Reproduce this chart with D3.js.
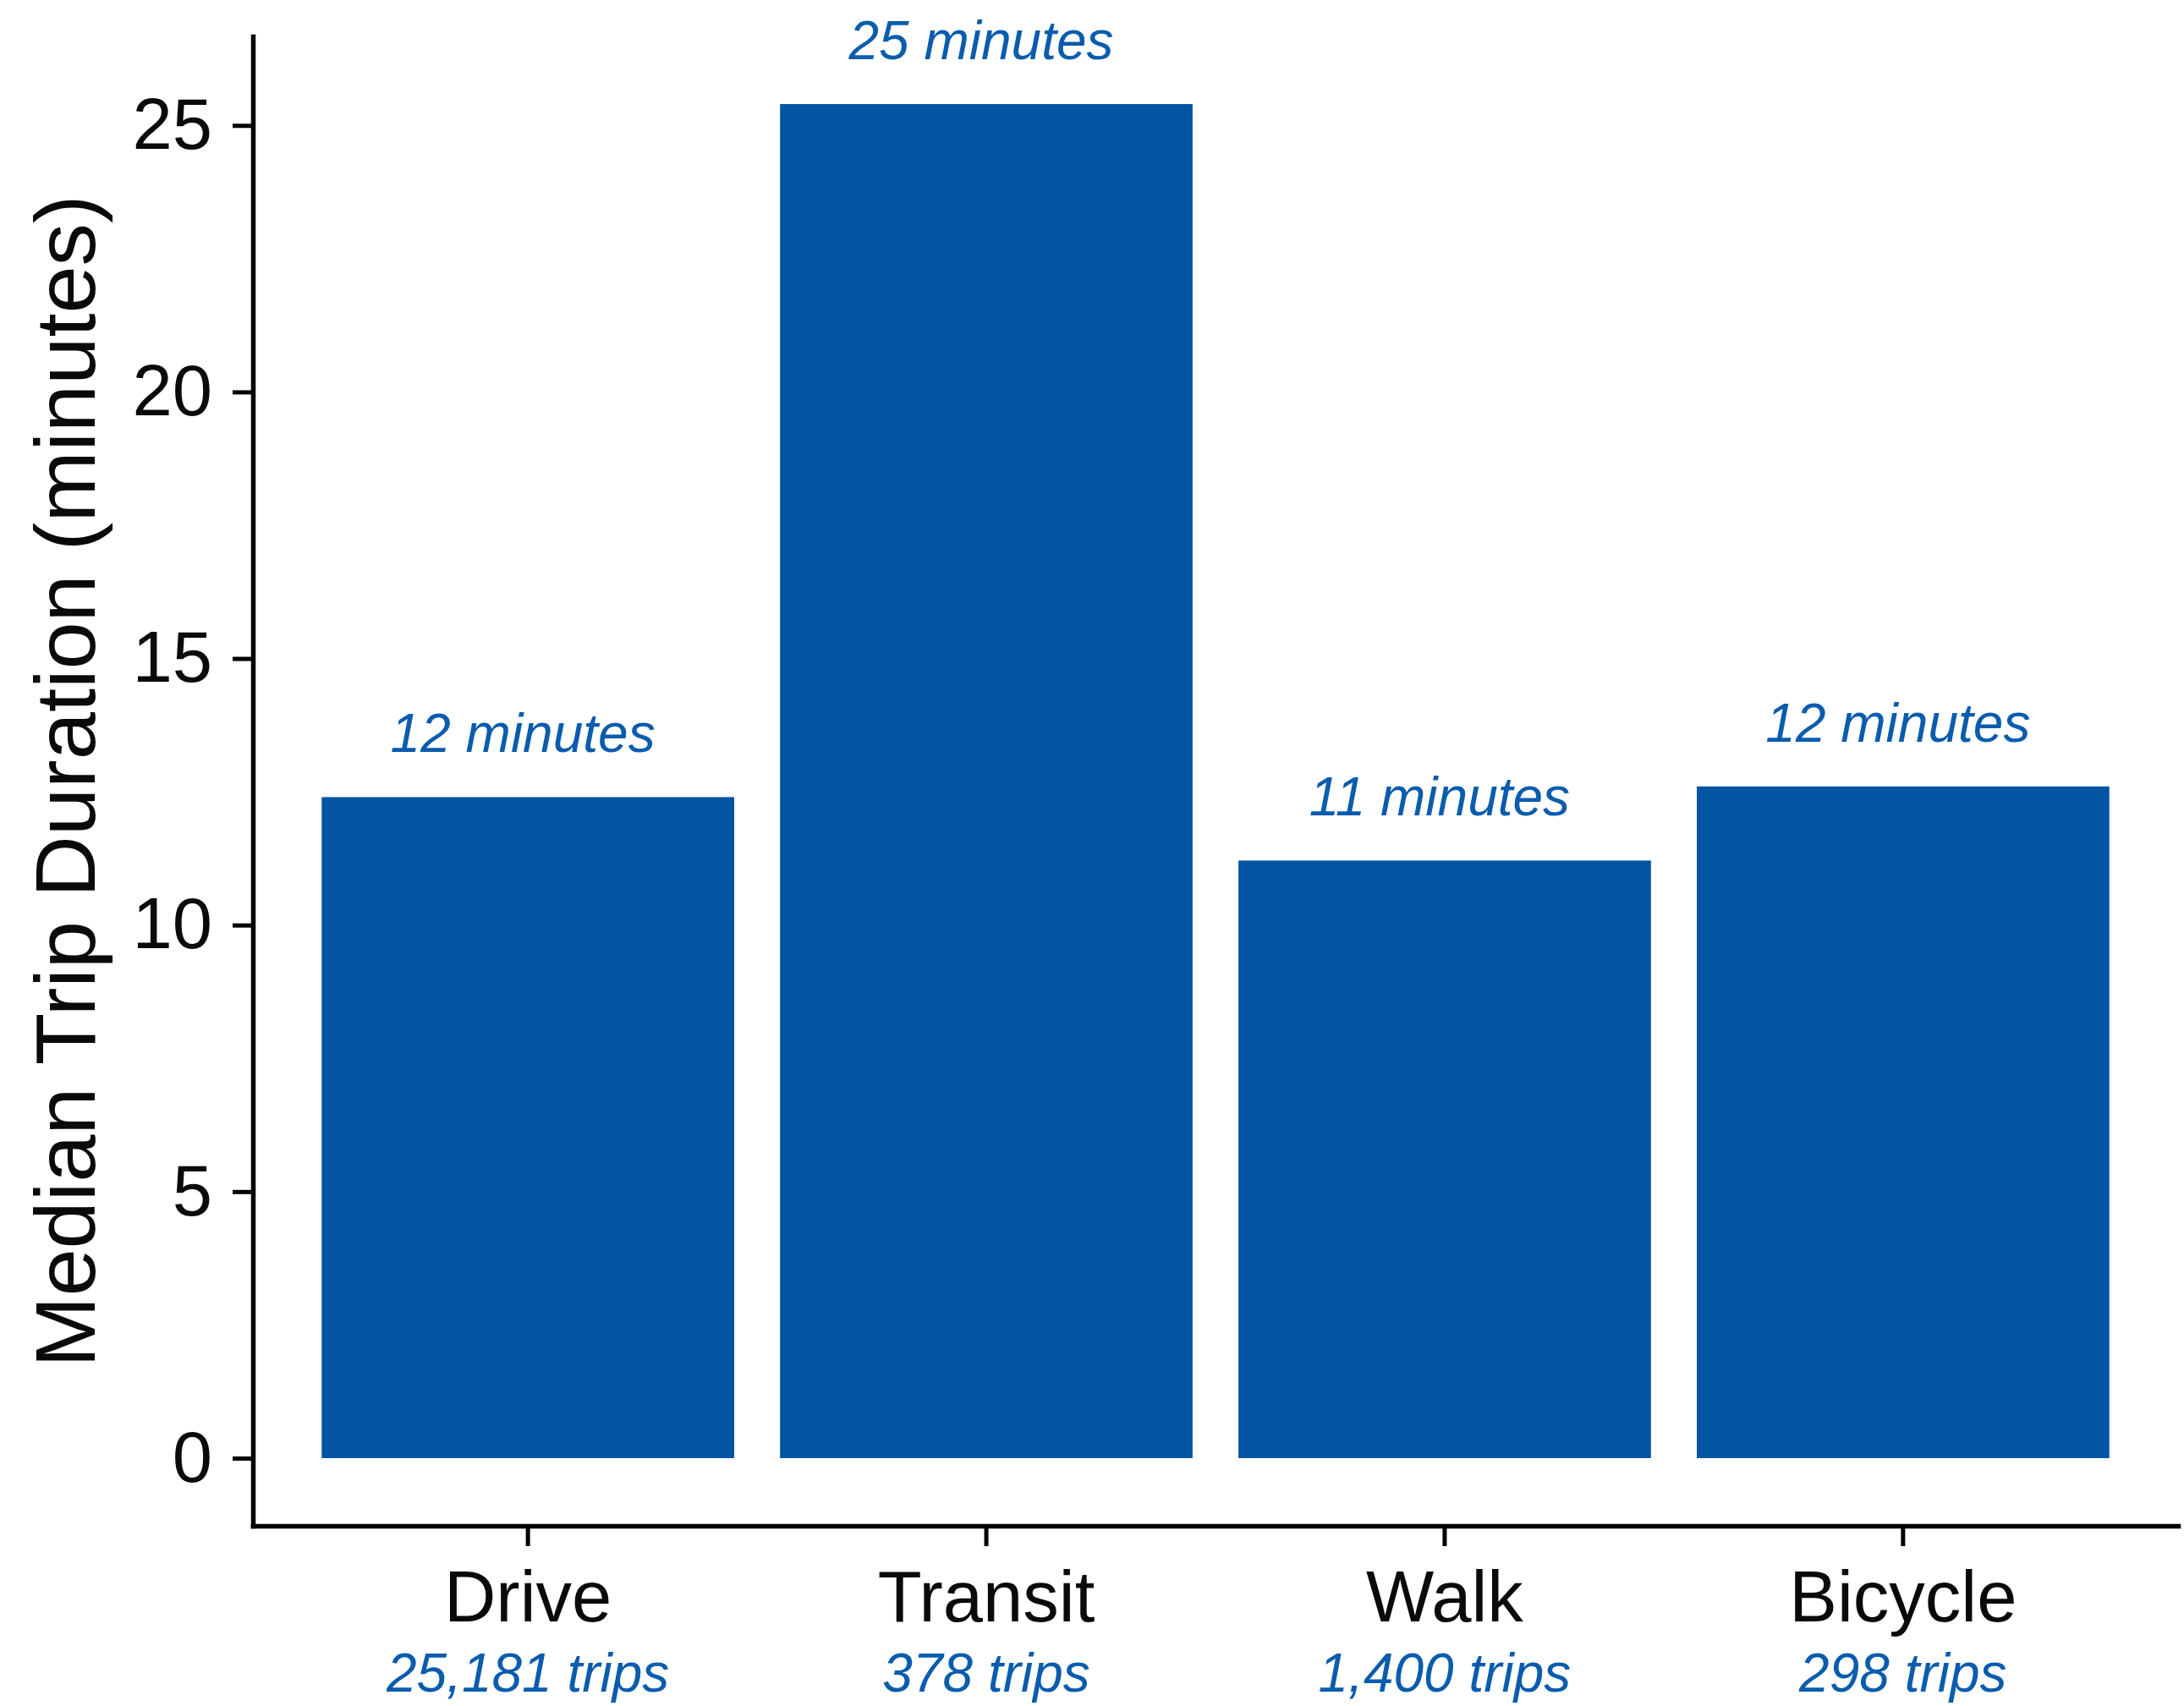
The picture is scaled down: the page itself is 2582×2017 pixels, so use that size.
<!DOCTYPE html>
<html>
<head>
<meta charset="utf-8">
<script src="https://cdn.jsdelivr.net/npm/d3@7"></script>
<style>
  html, body { margin: 0; padding: 0; background: #ffffff; }
  svg { display: block; }
  text { font-family: "Liberation Sans", Arial, sans-serif; }
</style>
</head>
<body>
<script>
// ---- data ----
const categories = ["Drive", "Transit", "Walk", "Bicycle"];
const medianMinutes = [12.40, 25.40, 11.21, 12.60];
const durationLabels = ["12 minutes", "25 minutes", "11 minutes", "12 minutes"];
const tripLabels = ["25,181 trips", "378 trips", "1,400 trips", "298 trips"];
const yTicks = [0, 5, 10, 15, 20, 25];
const yTitle = "Median Trip Duration (minutes)";

// ---- layout ----
const W = 2582, H = 2017;
const plotLeft = 299, plotRight = 2575, plotTop = 43, plotBottom = 1804;
const barColor = "#0254a2";
const labelColor = "#0a5cad";

const svg = d3.select("body").append("svg")
  .attr("width", W).attr("height", H);
svg.append("rect").attr("width", W).attr("height", H).attr("fill", "#fff");

const maxV = d3.max(medianMinutes);
const pad = 0.05 * maxV;
const y = d3.scaleLinear().domain([0 - pad, maxV + pad]).range([plotBottom, plotTop]);
const x = d3.scaleBand().domain(categories).range([plotLeft, plotRight])
  .paddingInner(0.1).paddingOuter(0.15);

const data = categories.map((c, i) => ({
  cat: c, v: medianMinutes[i], dur: durationLabels[i], trips: tripLabels[i]
}));

// bars
svg.append("g").selectAll("rect").data(data).join("rect")
  .attr("x", d => x(d.cat))
  .attr("width", x.bandwidth())
  .attr("y", d => y(d.v))
  .attr("height", d => y(0) - y(d.v))
  .attr("fill", barColor);

// duration labels
svg.append("g").selectAll("text").data(data).join("text")
  .attr("x", d => x(d.cat) + x.bandwidth() / 2 - 6)
  .attr("y", d => y(d.v) - 53)
  .attr("text-anchor", "middle")
  .attr("font-style", "italic")
  .attr("font-size", 64)
  .attr("fill", labelColor)
  .text(d => d.dur);

// y axis
const yAxis = svg.append("g").attr("transform", `translate(${plotLeft},0)`)
  .call(d3.axisLeft(y).tickValues(yTicks).tickSize(24).tickSizeOuter(0).tickPadding(24));
// x axis
const xAxis = svg.append("g").attr("transform", `translate(0,${plotBottom})`)
  .call(d3.axisBottom(x).tickSize(24).tickSizeOuter(0).tickPadding(29));

[yAxis, xAxis].forEach(g => {
  g.select(".domain").attr("stroke", "#000").attr("stroke-width", 5.5).attr("stroke-linecap", "square");
  g.selectAll(".tick line").attr("stroke", "#000").attr("stroke-width", 5);
  g.selectAll(".tick text").attr("fill", "#0a0a0a").attr("font-size", 85)
    .attr("font-family", "'Liberation Sans', Arial, sans-serif");
});

// trip count labels under categories
svg.append("g").selectAll("text").data(data).join("text")
  .attr("x", d => x(d.cat) + x.bandwidth() / 2)
  .attr("y", plotBottom + 196)
  .attr("text-anchor", "middle")
  .attr("font-style", "italic")
  .attr("font-size", 64)
  .attr("fill", labelColor)
  .text(d => d.trips);

// y axis title
svg.append("text")
  .attr("transform", `translate(112,${(plotTop + plotBottom) / 2}) rotate(-90)`)
  .attr("text-anchor", "middle")
  .attr("font-size", 101)
  .attr("fill", "#0a0a0a")
  .text(yTitle);
</script>
</body>
</html>
